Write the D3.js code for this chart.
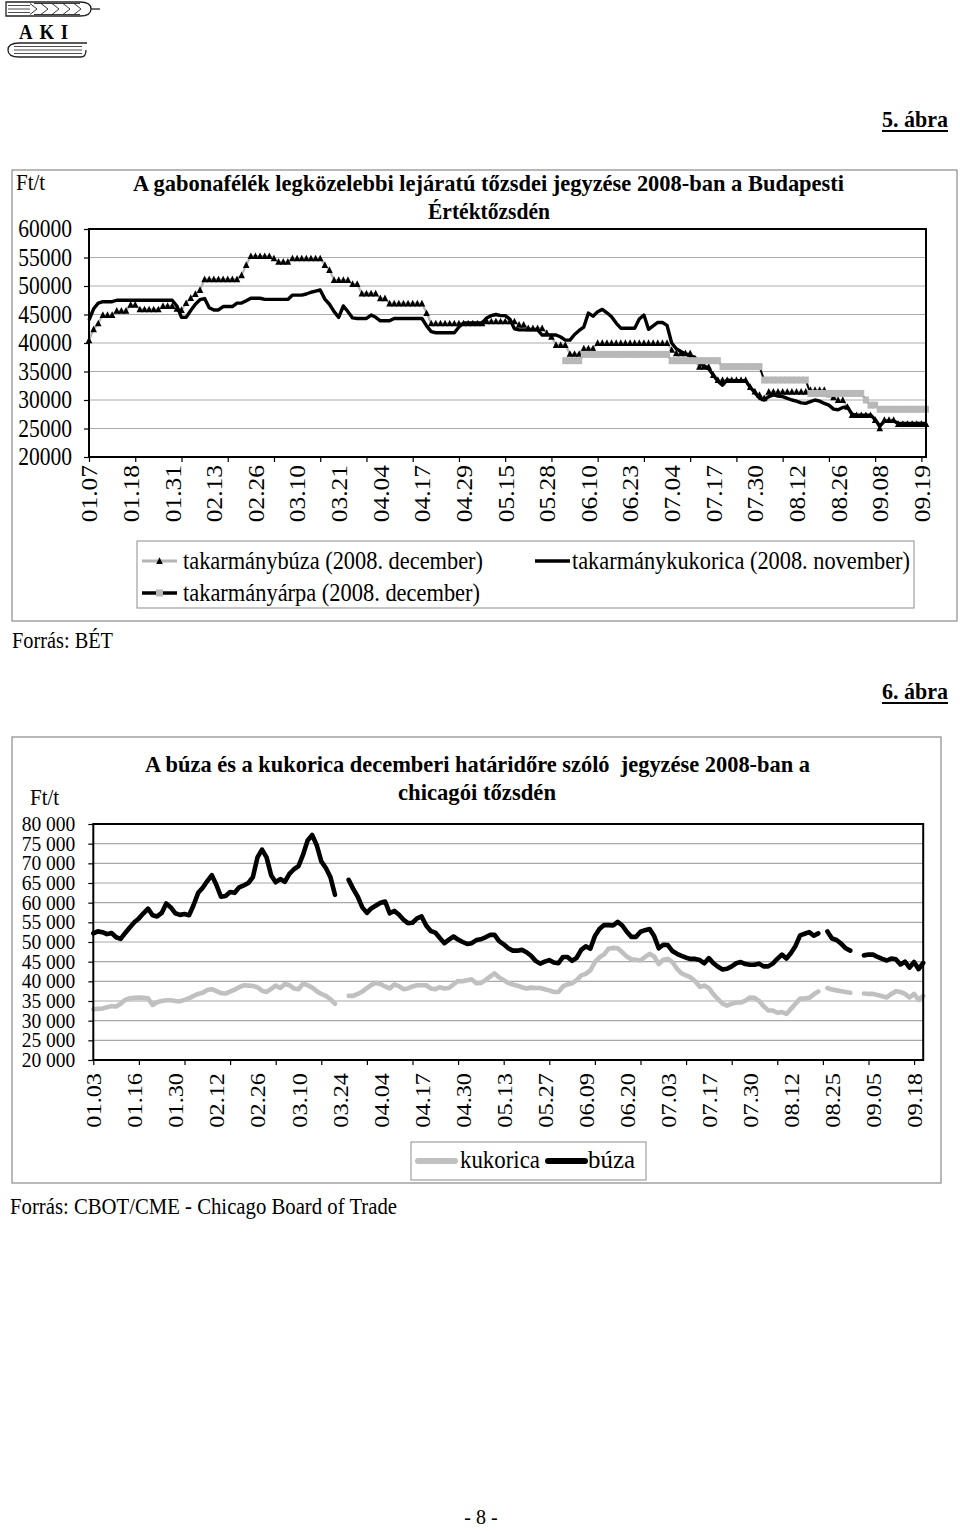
<!DOCTYPE html>
<html><head><meta charset="utf-8">
<script src="https://cdn.jsdelivr.net/npm/d3@7"></script>
<style>body{margin:0;background:#fff} svg{display:block}</style>
</head><body><svg id="c" width="960" height="1531"></svg>
<script>
// ---------------- DATA ----------------
const dates1 = ["01.07","01.18","01.31","02.13","02.26","03.10","03.21","04.04","04.17","04.29","05.15","05.28","06.10","06.23","07.04","07.17","07.30","08.12","08.26","09.08","09.19"];
const yTicks1 = [20000,25000,30000,35000,40000,45000,50000,55000,60000];
const buza1 = [
40500,42400,43450,44900,44900,44900,45650,45650,45650,46700,
46700,45900,45900,45900,45900,45900,46500,46500,46500,46000,
45800,47000,47900,48600,49300,51200,51200,51200,51200,51200,
51200,51200,51200,51900,53700,55250,55250,55250,55250,55250,
54850,54250,54250,54250,54850,54850,54850,54850,54850,54850,
54850,53700,52800,51050,51050,51050,51050,50350,50350,48700,
48700,48700,48700,47850,47850,46950,46950,46950,46950,46950,
46950,46950,46950,45250,43450,43450,43450,43450,43450,43450,
43450,43450,43450,43450,43450,43450,43800,43800,43800,43800,
43800,43800,43800,43200,43200,42600,42600,42600,42600,41750,
41100,39650,39650,39650,38100,38100,38100,39050,39050,39050,
40000,40000,40000,40000,40000,40000,40000,40000,40000,40000,
40000,40000,40000,40000,40000,40000,38800,38200,38200,38200,
38200,37000,35850,35850,35850,34400,33500,33500,33500,33500,
33500,33500,33500,32300,31500,30900,30300,31450,31450,31450,
31450,31450,31450,31450,31450,31450,31750,31750,31750,31750,
31000,30500,30000,30000,28800,27350,27350,27350,27350,27350,
26500,25050,26500,26500,26500,25800,25800,25800,25800,25800,
25800,25800];
const kukorica1 = [
44000,46000,47000,47250,47250,47250,47500,47500,47500,47500,
47500,47500,47500,47500,47500,47500,47500,47500,47500,46500,
44500,44500,45700,46800,47600,47800,46200,45800,45800,46400,
46400,46400,47000,47000,47400,47850,47850,47850,47650,47650,
47650,47650,47650,47650,48400,48400,48400,48600,48900,49100,
49300,47700,46800,45500,44500,46500,45500,44400,44300,44300,
44300,44900,44500,43900,43900,43900,44300,44300,44300,44300,
44300,44300,44300,43000,42000,41800,41800,41800,41800,41800,
42800,43500,43500,43500,43500,43500,44400,44800,45000,44800,
44800,44200,42500,42300,42300,42300,42300,42300,41400,41400,
41400,41400,41050,40500,40500,41500,42200,42800,45250,44700,
45500,45900,45300,44600,43500,42600,42600,42600,42600,44200,
44900,42400,43000,43600,43600,43100,40000,39000,38500,38100,
37700,37500,36500,36000,35500,34400,33300,32600,33500,33400,
33400,33400,33400,32200,31300,30300,30000,30600,30900,30700,
30600,30300,30000,29800,29500,29400,29700,30000,29800,29400,
29100,28400,28300,28700,28800,27500,27350,27350,27350,27350,
26600,25400,26300,26300,26300,25900,25900,25900,25900,25900,
25900,25900];
const arpa1 = [
null,null,null,null,null,null,null,null,null,null,
null,null,null,null,null,null,null,null,null,null,
null,null,null,null,null,null,null,null,null,null,
null,null,null,null,null,null,null,null,null,null,
null,null,null,null,null,null,null,null,null,null,
null,null,null,null,null,null,null,null,null,null,
null,null,null,null,null,null,null,null,null,null,
null,null,null,null,null,null,null,null,null,null,
null,null,null,null,null,null,null,null,null,null,
null,null,null,null,null,null,null,null,null,null,
null,null,null,36900,36900,36900,36900,38000,38000,38000,
38000,38000,38000,38000,38000,38000,38000,38000,38000,38000,
38000,38000,38000,38000,38000,38000,36900,36900,36900,36900,
36900,36900,36900,36900,36900,36900,36900,35850,35850,35850,
35850,35850,35850,35850,35850,35850,33500,33500,33500,33500,
33500,33500,33500,33500,33500,33500,31150,31150,31150,31150,
31150,31150,31150,31150,31150,31150,31150,31150,30000,29100,
29100,28370,28370,28370,28370,28370,28370,28370,28370,28370,
28370,28370];

const dates2 = ["01.03","01.16","01.30","02.12","02.26","03.10","03.24","04.04","04.17","04.30","05.13","05.27","06.09","06.20","07.03","07.17","07.30","08.12","08.25","09.05","09.18"];
const yTicks2 = [20000,25000,30000,35000,40000,45000,50000,55000,60000,65000,70000,75000,80000];
const buza2 = [
52200,52700,52500,52000,52300,51200,50800,52300,53700,55000,
56000,57300,58500,56800,56500,57400,59800,58800,57300,56900,
57100,56800,59400,62500,63800,65500,67000,64500,61500,61700,
62700,62500,63900,64400,65000,66500,71500,73500,71500,67000,
65200,66000,65300,67300,68500,69300,72200,75800,77200,74600,
70500,68800,66500,62000,null,null,65800,63500,61500,58800,
57400,58600,59300,60000,60300,57300,57900,57000,55700,54800,
54900,56000,56500,54200,52800,52400,51000,49700,50600,51400,
50600,50000,49500,49700,50500,50700,51200,51800,51800,50200,
49400,48400,47800,47800,48000,47400,46500,45200,44500,45000,
45400,44800,44600,46200,46200,45200,46000,48000,48900,48300,
51500,53300,54300,54300,54200,55100,54200,52600,51300,51300,
52600,53000,53300,51500,48400,49300,49200,47700,47000,46500,
46000,45700,45700,45400,44600,45900,44600,43700,43000,43200,
43800,44600,44900,44400,44200,44200,44500,43800,43800,44500,
45700,46800,45800,47200,49000,51700,52100,52500,51600,52200,
null,52700,50900,50500,49600,48400,47800,null,null,46600,
46800,46800,46200,45700,45300,45800,45600,44300,45000,43500,
44900,43100,44700];
const kukorica2 = [
32900,33000,33100,33400,33700,33600,34300,35300,35700,35800,
35900,35800,35700,34000,34700,35000,35200,35200,35000,34900,
35300,35700,36300,36800,37100,37800,38000,37500,37000,36900,
37400,37900,38500,39000,38900,38800,38500,37600,37300,38100,
38900,38300,39300,39000,38200,38000,39400,39000,38400,37500,
36800,36300,35500,34300,null,null,36300,36300,36800,37400,
38300,39100,39600,39300,38700,38200,39200,38800,38000,38200,
38700,39000,39000,39000,38200,38000,38500,38200,38300,39200,
40100,40000,40300,40500,39500,39600,40300,41200,42000,41000,
40300,39600,39200,38900,38500,38200,38400,38300,38300,38000,
37700,37300,37300,38700,39200,39500,40300,41500,41900,42800,
44900,46100,46800,48300,48500,48400,47400,46300,45600,45500,
45300,46200,47000,46300,44400,45500,45700,44900,43200,42000,
41500,41000,40000,38600,38900,38300,36700,35500,34300,33800,
34300,34600,34600,35100,35900,35800,35000,33700,32600,32600,
32000,32200,31700,33000,34300,35600,35600,35800,36700,37400,
null,38300,37900,37700,37500,37300,37100,null,null,36900,
36800,36800,36500,36200,35900,36800,37500,37300,36800,35900,
36800,35300,36300];

// ---------------- DRAWING ----------------
const SERIF = '"Liberation Serif","Times New Roman",Times,serif';
const SY = 1.13; // vertical stretch of the page's glyphs
const svg = d3.select("#c").attr("font-family", SERIF);

function txt(x, y, s, o = {}) {
  const t = svg.append("text")
    .attr("transform", `translate(${x},${y}) scale(1,${o.sy || SY})`)
    .attr("font-size", o.size || 21)
    .attr("text-anchor", o.anchor || "start")
    .attr("fill", "#000")
    .text(s);
  if (o.bold) t.attr("font-weight", "bold");
  if (o.len) t.attr("textLength", o.len).attr("lengthAdjust", "spacingAndGlyphs");
  return t;
}

// ---- logo ----
const logo = svg.append("g").attr("fill", "none").attr("stroke", "#222").attr("stroke-width", 1.3);
logo.append("path").attr("d", "M6,2 H80 Q91,2 91,9 Q91,16 80,16 H6 Z");
logo.append("line").attr("x1", 91).attr("x2", 100).attr("y1", 9).attr("y2", 9);
[5.5, 9, 12.5].forEach(v => logo.append("line").attr("x1", 8).attr("x2", 30).attr("y1", v).attr("y2", v).attr("stroke-width", 0.8));
logo.append("path").attr("stroke-width", 0.9)
  .attr("d", "M30,3.5 L37,9 L30,14.5 M41,3.5 L48,9 L41,14.5 M52,3.5 L59,9 L52,14.5 M63,3.5 L70,9 L63,14.5 M74,3.5 L81,9 L74,14.5 M34,3.5 H80 M34,14.5 H80");
logo.append("path").attr("d", "M87,43 H19 Q8,43 8,50 Q8,57 19,57 H81 Q86,57 86,50");
[46.5, 50, 53.5].forEach(v => logo.append("line").attr("x1", 14).attr("x2", 82).attr("y1", v).attr("y2", v).attr("stroke-width", 0.8));
txt(19, 39, "AKI", { size: 22, bold: true, len: 56, sy: 1.0 }).attr("letter-spacing", 8);

// ---- figure captions ----
txt(948, 127, "5. ábra", { bold: true, anchor: "end", len: 66 });
svg.append("line").attr("x1", 882).attr("x2", 948).attr("y1", 131).attr("y2", 131).attr("stroke", "#000").attr("stroke-width", 2);
txt(948, 699, "6. ábra", { bold: true, anchor: "end", len: 66 });
svg.append("line").attr("x1", 882).attr("x2", 948).attr("y1", 703).attr("y2", 703).attr("stroke", "#000").attr("stroke-width", 2);

function styleAxis(g, size) {
  g.attr("font-family", SERIF).attr("font-size", null);
  g.select(".domain").remove();
  g.selectAll(".tick line").attr("stroke", "#000").attr("stroke-width", 1.2);
  g.selectAll(".tick text").attr("fill", "#000").attr("font-size", size);
}

// =============== CHART 1 ===============
svg.append("rect").attr("x", 12).attr("y", 170).attr("width", 945).attr("height", 451)
  .attr("fill", "none").attr("stroke", "#8a8a8a").attr("stroke-width", 1.2);
const P1 = { l: 89, r: 926, t: 229, b: 457 };
const x1 = d3.scaleLinear().domain([0, buza1.length - 1]).range([P1.l, P1.r]);
const y1 = d3.scaleLinear().domain([20000, 60000]).range([P1.b, P1.t]);

svg.append("g").selectAll("line").data(yTicks1.slice(1, -1)).join("line")
  .attr("x1", P1.l).attr("x2", P1.r).attr("y1", d => y1(d)).attr("y2", d => y1(d))
  .attr("stroke", "#ababab").attr("stroke-width", 1.1);

const line1 = d3.line().defined(d => d != null).x((d, i) => x1(i)).y(d => y1(d));
// takarmánybúza: gray line with black triangles
svg.append("path").datum(buza1).attr("d", line1).attr("fill", "none").attr("stroke", "#b4b4b4").attr("stroke-width", 2.2);
const tri = "M0,-3.7 L3.3,3 L-3.3,3 Z";
svg.append("g").selectAll("path").data(buza1.map((v, i) => [i, v])).join("path")
  .attr("d", tri).attr("transform", d => `translate(${x1(d[0])},${y1(d[1])})`).attr("fill", "#000");
// takarmánykukorica: black line
svg.append("path").datum(kukorica1).attr("d", line1).attr("fill", "none").attr("stroke", "#000")
  .attr("stroke-width", 3.4).attr("stroke-linejoin", "round");
// takarmányárpa: black line with gray squares
svg.append("path").datum(arpa1).attr("d", line1).attr("fill", "none").attr("stroke", "#000").attr("stroke-width", 2);
svg.append("g").selectAll("rect").data(arpa1.map((v, i) => [i, v]).filter(d => d[1] != null)).join("rect")
  .attr("x", d => x1(d[0]) - 3).attr("y", d => y1(d[1]) - 3.5).attr("width", 6).attr("height", 7).attr("fill", "#b8b8b8");

svg.append("rect").attr("x", P1.l).attr("y", P1.t).attr("width", P1.r - P1.l).attr("height", P1.b - P1.t)
  .attr("fill", "none").attr("stroke", "#000").attr("stroke-width", 2);

// axes chart 1
const ya1 = svg.append("g").attr("transform", `translate(${P1.l},0)`)
  .call(d3.axisLeft(y1).tickValues(yTicks1).tickSize(5).tickPadding(12).tickFormat(d3.format("d")));
styleAxis(ya1, 21.5);
ya1.selectAll(".tick text").attr("transform", `scale(1,${SY})`);

const xt1 = svg.append("g").attr("transform", `translate(0,${P1.b})`)
  .call(d3.axisBottom(x1).tickValues(d3.range(0, buza1.length, 10)).tickSize(5).tickFormat(""));
styleAxis(xt1, 0);
const xl1 = svg.append("g").attr("transform", `translate(0,${P1.b})`)
  .call(d3.axisBottom(x1).tickValues(dates1.map((d, i) => i * 9)).tickSize(0).tickFormat((d, i) => dates1[i]));
styleAxis(xl1, 22.5);
xl1.selectAll(".tick text").attr("x", 0).attr("y", 0).attr("dy", "0.35em").attr("text-anchor", "end")
  .attr("transform", `translate(0,8) scale(1,${SY}) rotate(-90)`);

// titles chart 1
txt(16, 190, "Ft/t", { size: 21 });
txt(488.5, 191, "A gabonafélék legközelebbi lejáratú tőzsdei jegyzése 2008-ban a Budapesti", { bold: true, anchor: "middle", len: 711 });
txt(489, 219, "Értéktőzsdén", { bold: true, anchor: "middle", len: 122 });

// legend chart 1
svg.append("rect").attr("x", 137).attr("y", 541).attr("width", 777).attr("height", 67)
  .attr("fill", "none").attr("stroke", "#a0a0a0").attr("stroke-width", 1.2);
svg.append("line").attr("x1", 142).attr("x2", 177).attr("y1", 561).attr("y2", 561).attr("stroke", "#b4b4b4").attr("stroke-width", 3);
svg.append("path").attr("d", tri).attr("transform", "translate(159.5,561)").attr("fill", "#000");
txt(183, 569, "takarmánybúza (2008. december)", { size: 21.5, len: 300 });
svg.append("line").attr("x1", 535).attr("x2", 570).attr("y1", 561).attr("y2", 561).attr("stroke", "#000").attr("stroke-width", 3.5);
txt(572, 569, "takarmánykukorica (2008. november)", { size: 21.5, len: 338 });
svg.append("line").attr("x1", 142).attr("x2", 177).attr("y1", 593).attr("y2", 593).attr("stroke", "#000").attr("stroke-width", 3.5);
svg.append("rect").attr("x", 156).attr("y", 589.5).attr("width", 7).attr("height", 7).attr("fill", "#b8b8b8");
txt(183, 601, "takarmányárpa (2008. december)", { size: 21.5, len: 297 });

txt(12, 648, "Forrás: BÉT", { size: 21, len: 101 });

// =============== CHART 2 ===============
svg.append("rect").attr("x", 12).attr("y", 737).attr("width", 929).attr("height", 446)
  .attr("fill", "none").attr("stroke", "#8a8a8a").attr("stroke-width", 1.2);
const P2 = { l: 93.3, r: 923.2, t: 824, b: 1060 };
const x2 = d3.scaleLinear().domain([0, buza2.length - 1]).range([P2.l, P2.r]);
const y2 = d3.scaleLinear().domain([20000, 80000]).range([P2.b, P2.t]);

svg.append("g").selectAll("line").data(yTicks2.slice(1, -1)).join("line")
  .attr("x1", P2.l).attr("x2", P2.r).attr("y1", d => y2(d)).attr("y2", d => y2(d))
  .attr("stroke", "#a8a8a8").attr("stroke-width", 1.1);

const line2 = d3.line().defined(d => d != null).x((d, i) => x2(i)).y(d => y2(d));
svg.append("path").datum(kukorica2).attr("d", line2).attr("fill", "none").attr("stroke", "#c0c0c0")
  .attr("stroke-width", 4.6).attr("stroke-linejoin", "round").attr("stroke-linecap", "round");
svg.append("path").datum(buza2).attr("d", line2).attr("fill", "none").attr("stroke", "#000")
  .attr("stroke-width", 4.6).attr("stroke-linejoin", "round").attr("stroke-linecap", "round");

svg.append("rect").attr("x", P2.l).attr("y", P2.t).attr("width", P2.r - P2.l).attr("height", P2.b - P2.t)
  .attr("fill", "none").attr("stroke", "#000").attr("stroke-width", 2);

const fmt2 = d3.formatLocale({ decimal: ",", thousands: " ", grouping: [3], currency: ["", ""] }).format(",d");
const ya2 = svg.append("g").attr("transform", `translate(${P2.l},0)`)
  .call(d3.axisLeft(y2).tickValues(yTicks2).tickSize(5).tickPadding(13).tickFormat(fmt2));
styleAxis(ya2, 19.5);
ya2.selectAll(".tick text").attr("transform", "scale(1,1.05)");

const xt2 = svg.append("g").attr("transform", `translate(0,${P2.b})`)
  .call(d3.axisBottom(x2).tickValues(d3.range(0, buza2.length, 10)).tickSize(5).tickFormat(""));
styleAxis(xt2, 0);
const xl2 = svg.append("g").attr("transform", `translate(0,${P2.b})`)
  .call(d3.axisBottom(x2).tickValues(dates2.map((d, i) => i * 9)).tickSize(0).tickFormat((d, i) => dates2[i]));
styleAxis(xl2, 21.5);
xl2.selectAll(".tick text").attr("x", 0).attr("y", 0).attr("dy", "0.35em").attr("text-anchor", "end")
  .attr("transform", `translate(0,13) scale(1,${SY}) rotate(-90)`);

txt(30, 805, "Ft/t", { size: 21 });
txt(477.5, 772, "A búza és a kukorica decemberi határidőre szóló  jegyzése 2008-ban a", { bold: true, anchor: "middle", len: 665 }).style("white-space", "pre");
txt(477, 800, "chicagói tőzsdén", { bold: true, anchor: "middle", len: 158 });

// legend chart 2
svg.append("rect").attr("x", 411).attr("y", 1142).attr("width", 235).attr("height", 38)
  .attr("fill", "none").attr("stroke", "#a0a0a0").attr("stroke-width", 1.2);
svg.append("line").attr("x1", 418).attr("x2", 455).attr("y1", 1161).attr("y2", 1161)
  .attr("stroke", "#c0c0c0").attr("stroke-width", 6).attr("stroke-linecap", "round");
txt(460, 1168, "kukorica", { size: 21.5, len: 80 });
svg.append("line").attr("x1", 548).attr("x2", 585).attr("y1", 1161).attr("y2", 1161)
  .attr("stroke", "#000").attr("stroke-width", 6).attr("stroke-linecap", "round");
txt(588, 1168, "búza", { size: 21.5, len: 47 });

txt(10, 1214, "Forrás: CBOT/CME - Chicago Board of Trade", { size: 21, len: 387 });
txt(481, 1524, "- 8 -", { size: 20, anchor: "middle", sy: 1.05 });
</script>
</body></html>
